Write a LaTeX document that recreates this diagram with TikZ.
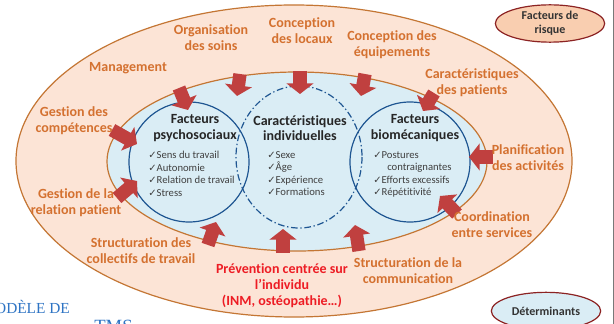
\documentclass[tikz,border=0pt]{standalone}
\usepackage{fontspec}
\setmainfont{Carlito}[Ligatures=NoCommon]
\newfontfamily\symb{DejaVu Sans}
\newfontfamily\titrefont{Liberation Serif}
\usetikzlibrary{arrows.meta,shapes.geometric}

\definecolor{peche}{RGB}{252,228,214}
\definecolor{pechefonce}{RGB}{249,206,176}
\definecolor{ciel}{RGB}{218,237,245}
\definecolor{brun}{RGB}{196,118,52}
\definecolor{orangelab}{RGB}{212,113,48}
\definecolor{bleu}{RGB}{31,86,146}
\definecolor{rouge}{RGB}{192,64,63}
\definecolor{rougevif}{RGB}{237,28,36}
\definecolor{bordeaux}{RGB}{140,35,35}
\definecolor{gris}{RGB}{64,64,64}
\definecolor{bleutitre}{RGB}{46,116,196}

\newcommand{\coche}{{\symb\fontsize{7.5}{8}\selectfont ✓}}

\tikzset{
    etiquette/.style={text=orangelab, font=\bfseries\fontsize{10.5}{12}\selectfont, align=center, inner sep=1pt},
    titre/.style={text=black!85, font=\bfseries\fontsize{10.5}{11.5}\selectfont, align=center, inner sep=1pt},
    liste/.style={text=gris, font=\fontsize{8}{9.4}\selectfont, align=left, anchor=north west, inner sep=0pt},
    fleche/.style={draw=rouge, line width=10pt, -{Triangle[width=20pt,length=8pt]}},
    legende/.style={ellipse, draw=bordeaux, line width=0.9pt, minimum width=82pt, minimum height=28pt,
        font=\bfseries\fontsize{9}{10.5}\selectfont, text=black!80, align=center, inner sep=0pt}
}

\begin{document}
\begin{tikzpicture}[x=0.75pt,y=-0.75pt]
    \useasboundingbox (0,0) rectangle (614,324);
    \fill[white] (0,0) rectangle (614,324);

    % les deux zones
    \draw[brun, line width=0.9pt, fill=peche] (294,161) ellipse [x radius=278, y radius=156];
    \draw[brun, line width=0.9pt, fill=ciel] (297,161.5) ellipse [x radius=190, y radius=89.5];

    % les trois familles de facteurs
    \draw[bleu, line width=0.9pt] (189,162) circle [radius=60];
    \draw[bleu, line width=0.9pt, dash pattern=on 5pt off 2pt on 1pt off 2pt] (299,157) ellipse [x radius=63, y radius=71];
    \draw[bleu, line width=0.9pt] (410,162) circle [radius=60];

    % fleches vers l'interieur
    \foreach \xa/\ya/\xb/\yb in {179/88/188/110, 240/74/237/96, 300/71/300/94, 365/74/361/96,
                                 434/93/423/111, 493/157/469/157, 457/214/440/196, 359/251/355/225,
                                 283/253/283/229, 208/245/216/222, 117/198/137/181, 112/130/137/144}
        \draw[fleche] (\xa,\ya) -- (\xb,\yb);

    % determinants
    \node[etiquette] (management) at (128,68) {Management};
    \node[etiquette] (organisation) at (211,38) {Organisation\\des soins};
    \node[etiquette] (locaux) at (302,31) {Conception\\des locaux};
    \node[etiquette] (equipements) at (392,45) {Conception des\\équipements};
    \node[etiquette] (patients) at (472,83) {Caractéristiques\\des patients};
    \node[etiquette] (planification) at (528,158) {Planification\\des activités};
    \node[etiquette] (coordination) at (492,225) {Coordination\\entre services};
    \node[etiquette] (communication) at (408,271) {Structuration de la\\communication};
    \node[etiquette, text=rougevif] (prevention) at (282,286) {Prévention centrée sur\\l’individu\\(INM, ostéopathie…)};
    \node[etiquette] (collectifs) at (141,251) {Structuration des\\collectifs de travail};
    \node[etiquette] (relation) at (76,203) {Gestion de la\\relation patient};
    \node[etiquette] (competences) at (74,121) {Gestion des\\compétences};

    % facteurs de risque
    \node[titre] (psycho) at (195,128) {Facteurs\\psychosociaux};
    \node[liste] (psycholiste) at (148,151) {\coche Sens du travail\\\coche Autonomie\\\coche Relation de travail\\\coche Stress};
    \node[titre] (indiv) at (300,128) {Caractéristiques\\individuelles};
    \node[liste] (indivliste) at (267,151) {\coche Sexe\\\coche Âge\\\coche Expérience\\\coche Formations};
    \node[titre] (biomeca) at (415,128) {Facteurs\\biomécaniques};
    \node[liste] (biomecaliste) at (373,151) {\coche Postures\\\hspace*{10.5pt}contraignantes\\\coche Efforts excessifs\\\coche Répétitivité};

    % legende
    \node[legende, fill=pechefonce] (risque) at (550,23.5) {Facteurs de\\risque};
    \node[legende, fill=ciel] (determinants) at (546,311) {Déterminants};

    % titre de la page, en partie hors cadre
    \node[anchor=east, inner sep=0pt, text=bleutitre, font=\titrefont\fontsize{11.5}{14}\selectfont] (modele) at (70,307) {MODÈLE DE};
    \node[anchor=north west, inner sep=0pt, text=bleutitre, font=\titrefont\fontsize{14}{16}\selectfont] (tms) at (94,320) {TMS};
    \draw[gris!70, line width=0.6pt] (613.5,0) -- (613.5,324);
\end{tikzpicture}
\end{document}
